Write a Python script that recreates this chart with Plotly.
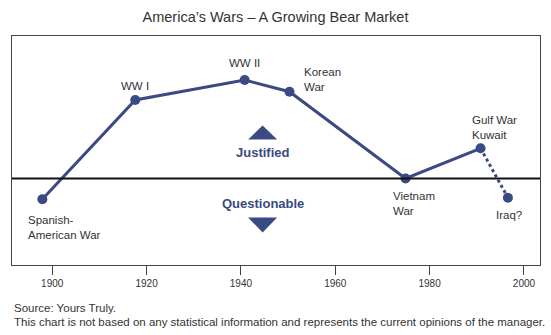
import plotly.graph_objects as go

# ---- data ----
wars = ["Spanish-<br>American War", "WW I", "WW II", "Korean<br>War", "Vietnam<br>War", "Gulf War<br>Kuwait", "Iraq?"]
years = [1897.9, 1917.6, 1940.8, 1950.3, 1974.9, 1990.8, 1996.6]
sentiment = [-20.8, 78.5, 98.5, 86.8, 0.0, 30.2, -19.2]
tick_years = [1900, 1920, 1940, 1960, 1980, 2000]
zone_labels = ["Justified", "Questionable"]
title_text = "America\u2019s Wars \u2013 A Growing Bear Market"
footer = ["Source: Yours Truly.",
          "This chart is not based on any statistical information and represents the current opinions of the manager."]

# ---- styles ----
NAVY = "#3b4a82"
TXT = "#333333"
FONT = "Liberation Sans, Arial, sans-serif"
label_style = [  # xanchor, yanchor, xshift, yshift
    ("left", "top", -16, -13),
    ("center", "middle", 0, 14),
    ("center", "middle", 0, 17),
    ("left", "middle", 12, 12),
    ("left", "middle", -15, -25),
    ("left", "middle", -11, 21),
    ("left", "middle", -14, -17),
]

fig = go.Figure()
# solid segment
fig.add_trace(go.Scatter(x=years[:6], y=sentiment[:6], mode="lines",
                         line=dict(color=NAVY, width=3),
                         hoverinfo="skip", showlegend=False))
# dashed segment to the uncertain war
fig.add_trace(go.Scatter(x=years[5:], y=sentiment[5:], mode="lines",
                         line=dict(color=NAVY, width=3, dash="3px,3px"),
                         hoverinfo="skip", showlegend=False))
# markers
fig.add_trace(go.Scatter(x=years, y=sentiment, mode="markers",
                         marker=dict(color=NAVY, size=10, line=dict(width=0)),
                         hoverinfo="skip", showlegend=False))

for name, xv, yv, (xa, ya, xs, ys) in zip(wars, years, sentiment, label_style):
    fig.add_annotation(x=xv, y=yv, text=name, showarrow=False, xanchor=xa, yanchor=ya,
                       xshift=xs, yshift=ys, align="left",
                       font=dict(family=FONT, size=11.5, color=TXT))

# baseline
fig.add_hline(y=0, line=dict(color="#111111", width=2))

# zone labels and arrows
zone_x = 1944.6
fig.add_annotation(x=zone_x, y=0, text="<b>" + zone_labels[0] + "</b>", showarrow=False,
                   yshift=26, font=dict(family=FONT, size=13, color=NAVY))
fig.add_annotation(x=zone_x, y=0, text="<b>" + zone_labels[1] + "</b>", showarrow=False,
                   yshift=-25, font=dict(family=FONT, size=13, color=NAVY))
fig.add_shape(type="path", xref="x", yref="y", xsizemode="pixel", ysizemode="pixel",
              xanchor=zone_x, yanchor=0, path="M -14.5,39 L 14.5,39 L 0,53 Z",
              fillcolor=NAVY, line=dict(width=0))
fig.add_shape(type="path", xref="x", yref="y", xsizemode="pixel", ysizemode="pixel",
              xanchor=zone_x, yanchor=0, path="M -14.5,-39 L 14.5,-39 L 0,-54 Z",
              fillcolor=NAVY, line=dict(width=0))

# footer
for i, line in enumerate(footer):
    fig.add_annotation(xref="paper", yref="paper", x=0, y=0, text=line, showarrow=False,
                       xanchor="left", yanchor="middle", xshift=-0.5, yshift=-43 - 14 * i,
                       font=dict(family=FONT, size=11.5, color=TXT))

fig.update_layout(
    width=551, height=335,
    margin=dict(l=12, r=11, t=36, b=70),
    paper_bgcolor="white", plot_bgcolor="white",
    title=dict(text=title_text, x=0.5, xanchor="center", y=1 - 17 / 335, yanchor="middle",
               font=dict(family=FONT, size=14.5, color=TXT)),
    xaxis=dict(range=[1891.47, 2003.4], tickvals=tick_years, ticks="outside", ticklen=9,
               tickcolor="#444444", tickwidth=1, showgrid=False, zeroline=False,
               showline=True, linecolor="#444444", linewidth=1, mirror=True,
               tickfont=dict(family=FONT, size=10, color=TXT)),
    yaxis=dict(range=[-86.5, 142.5], showticklabels=False, ticks="", showgrid=False,
               zeroline=False, showline=True, linecolor="#444444", linewidth=1, mirror=True),
    font=dict(family=FONT),
)

fig.write_html("out.html")
